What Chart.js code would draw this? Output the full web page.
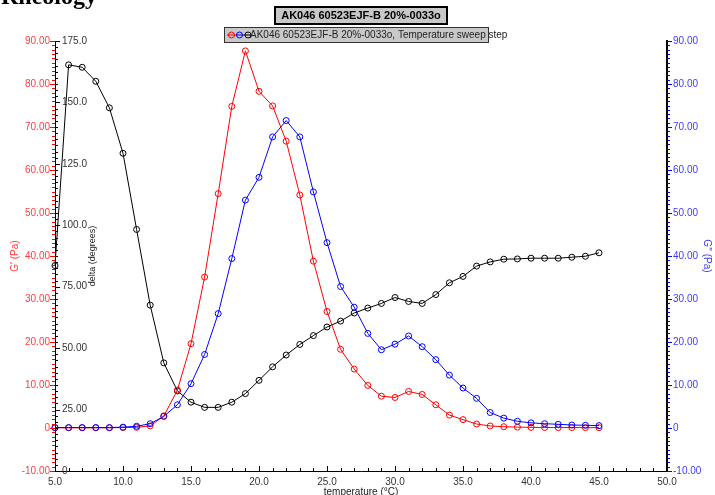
<!DOCTYPE html>
<html>
<head>
<meta charset="utf-8">
<script src="https://cdn.jsdelivr.net/npm/chart.js@4"></script>
<style>
  body { margin: 0; background: #fff; }
  #wrap { width: 715px; height: 495px; }
</style>
</head>
<body>
<div id="wrap"><canvas id="rheo" width="715" height="495"></canvas></div>
<script>
// temperature sweep, one point per degree
const temps = [5, 6, 7, 8, 9, 10, 11, 12, 13, 14, 15, 16, 17, 18, 19, 20, 21, 22, 23, 24, 25,
    26, 27, 28, 29, 30, 31, 32, 33, 34, 35, 36, 37, 38, 39, 40, 41, 42, 43, 44, 45];

// G' (Pa)
const gPrime = [0.05, 0.05, 0.05, 0.05, 0.05, 0.1, 0.15, 0.5, 2.8, 8.8, 19.6, 35.1, 54.5, 74.8, 87.7, 78.3,
    74.9, 66.7, 54.2, 38.8, 27.1, 18.3, 13.7, 9.9, 7.4, 7.1, 8.5, 7.8, 5.4, 3.0, 1.95, 0.93, 0.47, 0.3,
    0.2, 0.15, 0.12, 0.1, 0.1, 0.08, 0.08];

// G'' (Pa)
const gDouble = [0.1, 0.1, 0.1, 0.1, 0.1, 0.2, 0.4, 1.0, 2.7, 5.4, 10.3, 17.1, 26.6, 39.4, 53.0, 58.3,
    67.7, 71.5, 67.7, 54.9, 43.1, 32.9, 28.1, 22.0, 18.2, 19.5, 21.4, 18.9, 15.9, 12.3, 9.3, 6.9, 3.6, 2.3,
    1.56, 1.2, 1.0, 0.86, 0.7, 0.63, 0.55];

// delta (degrees)
const delta = [83.6, 165.3, 164.3, 158.6, 147.8, 129.3, 98.3, 67.5, 44.0, 32.6, 28.0, 25.9, 25.9, 28.0,
    31.5, 36.9, 42.4, 47.2, 51.5, 55.1, 58.6, 61.0, 64.3, 66.3, 68.2, 70.6, 69.0, 68.2, 71.8, 76.6, 79.2,
    83.4, 85.1, 86.2, 86.3, 86.6, 86.6, 86.6, 87.0, 87.4, 88.8];

const sampleName = "AK046 60523EJF-B 20%-0033o";
const legendText = "AK046 60523EJF-B 20%-0033o, Temperature sweep step";

const FONT = "'Liberation Sans', Arial, sans-serif";
const RED = "#ff0000", BLUE = "#0000ff";
const RED_TXT = "#ff3c3c", BLUE_TXT = "#3c3cff";

const pts = arr => temps.map((t, i) => ({ x: t, y: arr[i] }));

function series(label, arr, color, axis) {
    return {
        label, data: pts(arr), yAxisID: axis,
        borderColor: color, borderWidth: 1,
        pointRadius: 3, pointBorderWidth: 1, pointBorderColor: color,
        pointBackgroundColor: "rgba(0,0,0,0)", tension: 0, clip: 6
    };
}

function fixed2(v) { return v === 0 ? "0" : v.toFixed(2); }

// minor + major tick marks drawn by hand, like the original software does
function vTicks(ctx, scale, xPos, dir, minorStep, majorStep, color) {
    ctx.strokeStyle = color;
    ctx.lineWidth = 1;
    ctx.beginPath();
    const n = Math.round((scale.max - scale.min) / minorStep);
    for (let i = 0; i <= n; i++) {
        const v = scale.min + i * minorStep;
        const major = Math.abs(v / majorStep - Math.round(v / majorStep)) < 1e-6;
        const p = Math.round(scale.getPixelForValue(v)) + 0.5;
        ctx.moveTo(xPos, p);
        ctx.lineTo(xPos + dir * (major ? 5 : 3), p);
    }
    ctx.stroke();
}

function hTicks(ctx, scale, yPos, minorStep, majorStep) {
    ctx.strokeStyle = "#000";
    ctx.lineWidth = 1;
    ctx.beginPath();
    const n = Math.round((scale.max - scale.min) / minorStep);
    for (let i = 0; i <= n; i++) {
        const v = scale.min + i * minorStep;
        const major = Math.abs(v / majorStep - Math.round(v / majorStep)) < 1e-6;
        const p = Math.round(scale.getPixelForValue(v)) + 0.5;
        ctx.moveTo(p, yPos);
        ctx.lineTo(p, yPos - (major ? 5 : 3));
    }
    ctx.stroke();
}

function marker(ctx, x, y, color) {
    ctx.strokeStyle = color;
    ctx.beginPath();
    ctx.arc(x, y, 3, 0, Math.PI * 2);
    ctx.stroke();
}

const decor = {
    id: "decor",
    afterDraw(chart) {
        const ctx = chart.ctx;
        const { x, y, y2, yd } = chart.scales;
        const area = chart.chartArea;
        ctx.save();

        vTicks(ctx, y, area.left, -1, 1, 10, RED);
        vTicks(ctx, yd, area.left, 1, 2.5, 25, "#000");
        vTicks(ctx, y2, area.right, 1, 1, 10, BLUE);
        hTicks(ctx, x, area.bottom, 1, 5);

        // cut-off page heading
        ctx.fillStyle = "#000";
        ctx.font = "bold 24px 'Liberation Serif', 'DejaVu Serif', serif";
        ctx.textAlign = "right";
        ctx.textBaseline = "alphabetic";
        ctx.fillText("Rheology", 97, 4);

        // title box
        ctx.fillStyle = "#c8c8c8";
        ctx.fillRect(275, 7, 172, 17);
        ctx.strokeStyle = "#000";
        ctx.lineWidth = 2;
        ctx.strokeRect(275, 7, 172, 17);
        ctx.fillStyle = "#000";
        ctx.font = "bold 11px " + FONT;
        ctx.textAlign = "center";
        ctx.textBaseline = "middle";
        ctx.fillText(sampleName, 361, 16);

        // legend box
        ctx.fillStyle = "#c8c8c8";
        ctx.fillRect(224.5, 27.5, 264, 15);
        ctx.lineWidth = 1;
        ctx.strokeStyle = "#333";
        ctx.strokeRect(224.5, 27.5, 264, 15);
        const ly = 35;
        ctx.beginPath();
        ctx.strokeStyle = RED; ctx.moveTo(227, ly); ctx.lineTo(236, ly); ctx.stroke();
        marker(ctx, 231.5, ly, RED);
        ctx.beginPath();
        ctx.strokeStyle = BLUE; ctx.moveTo(236, ly); ctx.lineTo(244, ly); ctx.stroke();
        marker(ctx, 239.5, ly, BLUE);
        ctx.beginPath();
        ctx.strokeStyle = "#000"; ctx.moveTo(244, ly); ctx.lineTo(251, ly); ctx.stroke();
        marker(ctx, 248, ly, "#000");
        ctx.fillStyle = "#222";
        ctx.font = "10px " + FONT;
        ctx.textAlign = "left";
        ctx.fillText(legendText, 250, ly + 0.5);

        ctx.restore();
    }
};

new Chart(document.getElementById("rheo"), {
    type: "line",
    data: {
        datasets: [
            series("G''", gDouble, BLUE, "y2"),
            series("G'", gPrime, RED, "y"),
            series("delta", delta, "#000", "yd")
        ]
    },
    options: {
        responsive: false,
        animation: false,
        events: [],
        layout: { padding: { top: 41, left: 0, right: 0, bottom: 0 } },
        plugins: { legend: { display: false }, tooltip: { enabled: false } },
        scales: {
            x: {
                type: "linear", position: "bottom", min: 5, max: 50,
                afterFit: s => { s.height = 24; },
                grid: { display: false, drawTicks: false },
                border: { display: true, color: "#000", width: 1 },
                ticks: { stepSize: 5, padding: 5, color: "#333", font: { family: FONT, size: 10 },
                    maxRotation: 0, autoSkip: false, callback: v => v.toFixed(1) },
                title: { display: true, text: "temperature (°C)", color: "#222",
                    font: { family: FONT, size: 10 }, padding: { top: 0, bottom: -3 } }
            },
            y: {
                position: "left", weight: 2, min: -10, max: 90,
                afterFit: s => { s.width = 55; },
                grid: { display: false, drawTicks: false },
                border: { display: true, color: "#000", width: 1 },
                ticks: { stepSize: 10, padding: 5, color: RED_TXT, font: { family: FONT, size: 10 },
                    callback: fixed2 },
                title: { display: true, text: "G' (Pa)", color: RED_TXT,
                    font: { family: FONT, size: 10 }, padding: { top: 9, bottom: 0 } }
            },
            yd: {
                position: "left", weight: 1, min: 0, max: 175,
                afterFit: s => { s.width = 0; },
                grid: { display: false, drawTicks: false },
                border: { display: false },
                ticks: { stepSize: 25, mirror: true, padding: 7, color: "#333",
                    font: { family: FONT, size: 10 },
                    callback: v => v === 0 ? "0" : (v >= 100 ? v.toFixed(1) : v.toFixed(2)) },
                title: { display: true, text: "delta (degrees)", color: "#222",
                    font: { family: FONT, size: 9 }, padding: { top: 32, bottom: 0 } }
            },
            y2: {
                position: "right", min: -10, max: 90,
                afterFit: s => { s.width = 48; },
                grid: { display: false, drawTicks: false },
                border: { display: true, color: "#000", width: 2 },
                ticks: { stepSize: 10, padding: 6, color: BLUE_TXT, font: { family: FONT, size: 10 },
                    callback: fixed2 },
                title: { display: true, text: "G'' (Pa)", color: BLUE_TXT,
                    font: { family: FONT, size: 10 }, padding: { top: 2, bottom: 0 } }
            }
        }
    },
    plugins: [decor]
});
</script>
</body>
</html>
